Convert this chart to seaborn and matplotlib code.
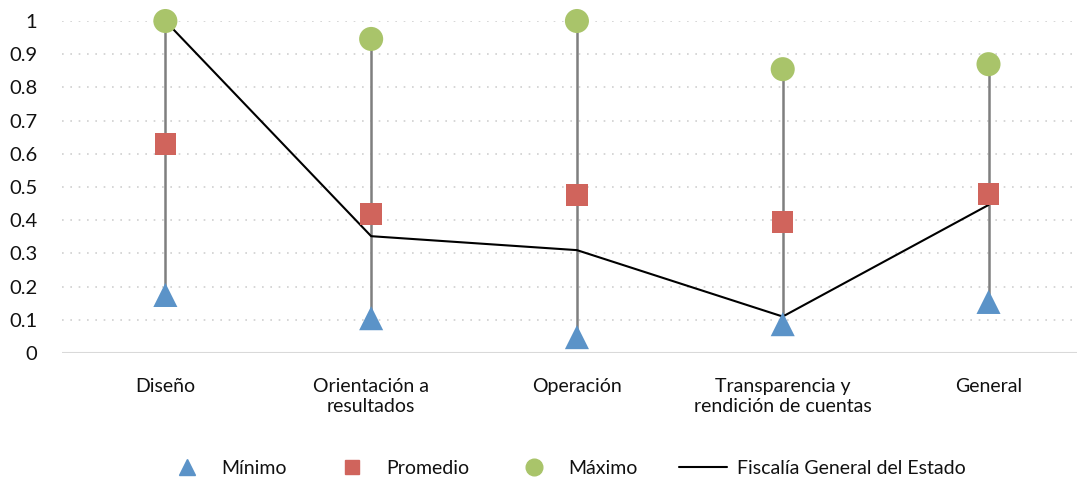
import matplotlib
matplotlib.use("Agg")
import matplotlib.pyplot as plt
import numpy as np
import pandas as pd
import seaborn as sns
from matplotlib.lines import Line2D

categorias = ["Diseño", "Orientación a\nresultados", "Operación",
              "Transparencia y\nrendición de cuentas", "General"]
minimo = [0.175, 0.105, 0.048, 0.087, 0.154]
promedio = [0.63, 0.419, 0.476, 0.395, 0.479]
maximo = [1.0, 0.946, 1.0, 0.855, 0.87]
fiscalia = [1.0, 0.352, 0.31, 0.11, 0.446]
y_ticks = [0, 0.1, 0.2, 0.3, 0.4, 0.5, 0.6, 0.7, 0.8, 0.9, 1]
y_labels = ["0", "0.1", "0.2", "0.3", "0.4", "0.5", "0.6", "0.7", "0.8", "0.9", "1"]

sns.set_style("white")
plt.rcParams["font.family"] = ["Lato", "DejaVu Sans"]
plt.rcParams["text.color"] = "#111111"

df = pd.DataFrame({"pos": np.arange(len(categorias)), "cat": categorias,
                   "min": minimo, "prom": promedio, "max": maximo, "fge": fiscalia})

azul, rojo, verde = "#5B93C8", "#D0645C", "#A9C46A"

fig, ax = plt.subplots(figsize=(10.77, 4.83), dpi=100)
fig.subplots_adjust(left=0.058, right=1.0, bottom=0.269, top=0.9565)

# gridlines
for t in y_ticks[1:]:
    ax.axhline(t, color="#d0d0d0", lw=1.2, ls=(0, (1, 4)), zorder=0)
ax.axhline(0, color="#d9d9d9", lw=1.5, zorder=0)

# min-max range lines
ax.vlines(df["pos"], df["min"], df["max"], color="#7f7f7f", lw=1.8, zorder=1)

sns.lineplot(data=df, x="pos", y="fge", color="black", lw=1.5, ax=ax, zorder=2,
             legend=False)
sns.scatterplot(data=df, x="pos", y="min", marker="^", s=300, color=azul,
                edgecolor="none", ax=ax, zorder=3, clip_on=False, legend=False)
sns.scatterplot(data=df, x="pos", y="prom", marker="s", s=240, color=rojo,
                edgecolor="none", ax=ax, zorder=3, clip_on=False, legend=False)
sns.scatterplot(data=df, x="pos", y="max", marker="o", s=300, color=verde,
                edgecolor="none", ax=ax, zorder=3, clip_on=False, legend=False)

ax.set_xlim(-0.5, 4.43)
ax.set_ylim(0, 1)
ax.set_xticks(df["pos"])
ax.set_xticklabels(categorias, fontsize=14, linespacing=1.2, color="#111111")
ax.set_yticks(y_ticks)
ax.set_yticklabels(y_labels, fontsize=14.5, color="#111111")
ax.tick_params(axis="x", length=0, pad=18)
ax.tick_params(axis="y", length=0, pad=18)
ax.set_xlabel("")
ax.set_ylabel("")
for s in ax.spines.values():
    s.set_visible(False)

handles = [
    Line2D([], [], marker="^", color=azul, ls="none", markersize=11),
    Line2D([], [], marker="s", color=rojo, ls="none", markersize=10),
    Line2D([], [], marker="o", color=verde, ls="none", markersize=12),
    Line2D([], [], color="black", lw=1.5),
]
labels = ["Mínimo", "Promedio", "Máximo", "Fiscalía General del Estado"]
fig.legend(handles, labels, loc="center", bbox_to_anchor=(0.524, 0.031),
           ncol=4, frameon=False, fontsize=14, handlelength=2.5,
           columnspacing=2.1, handletextpad=0.5)

fig.savefig("out.png", dpi=100)
